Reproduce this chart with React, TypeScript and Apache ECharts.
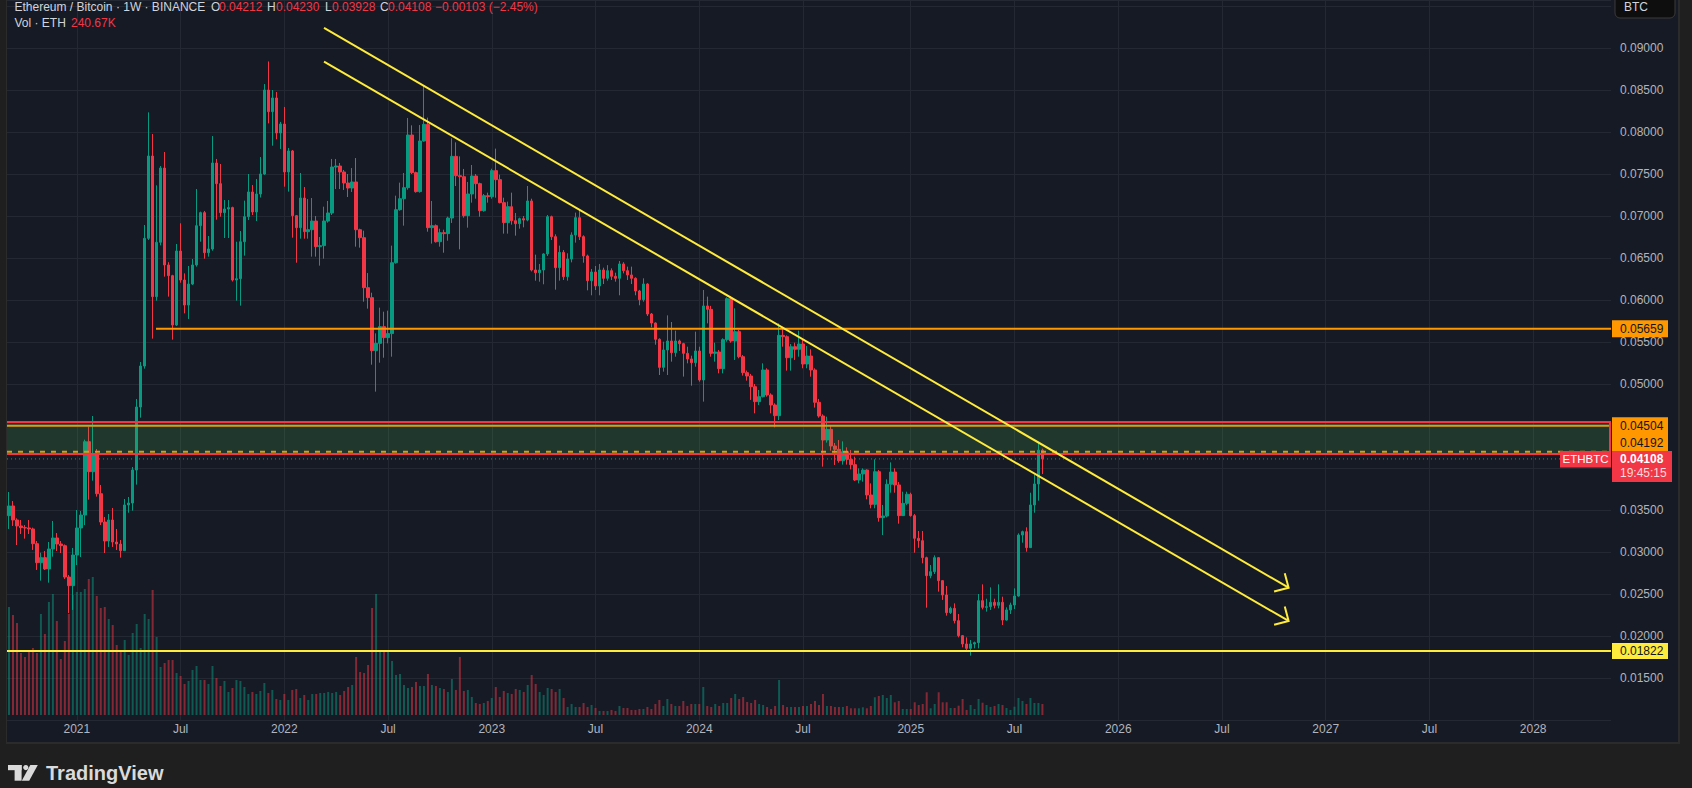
import React, { useEffect, useRef } from 'react';
import * as echarts from 'echarts';

const FONT = '"Liberation Sans", Arial, Helvetica, sans-serif';
const GRID_LINE = '#242833';
const AXIS_TEXT = '#b2b5be';
const LEGEND_TEXT = '#d1d4dc';
const UP = '#089981';
const DOWN = '#f23645';
const UP_VOL = 'rgba(8,153,129,0.5)';
const DOWN_VOL = 'rgba(242,54,69,0.5)';
const ORANGE = '#ff9800';
const YELLOW = '#ffeb3b';
const DARK_TEXT = '#131722';

// weekly axis: first visible week and number of week slots on the axis
const FIRST_WEEK_UTC = Date.UTC(2020, 8, 7);
const WEEKS_ON_AXIS = 402;

const TICK_LABELS: [string, string][] = [
  ['2021-01-04', '2021'], ['2021-07-05', 'Jul'], ['2022-01-03', '2022'], ['2022-07-04', 'Jul'],
  ['2023-01-02', '2023'], ['2023-07-03', 'Jul'], ['2024-01-01', '2024'], ['2024-07-01', 'Jul'],
  ['2025-01-06', '2025'], ['2025-07-07', 'Jul'], ['2026-01-05', '2026'], ['2026-07-06', 'Jul'],
  ['2027-01-04', '2027'], ['2027-07-05', 'Jul'], ['2028-01-03', '2028'],
];

// [open, high, low, close] weekly ETH/BTC
const CANDLES_2020 = [
  [0.03433, 0.03714, 0.03274, 0.03548], [0.03548, 0.03607, 0.03310, 0.03381], [0.03381, 0.03401, 0.03083, 0.03310],
  [0.03310, 0.03381, 0.03214, 0.03290], [0.03290, 0.03321, 0.03159, 0.03286], [0.03286, 0.03381, 0.03214, 0.03274],
  [0.03274, 0.03290, 0.03024, 0.03099], [0.03099, 0.03131, 0.02786, 0.02873], [0.02873, 0.02992, 0.02659, 0.02933],
  [0.02933, 0.03012, 0.02786, 0.02798], [0.02798, 0.03119, 0.02635, 0.03036], [0.03036, 0.03369, 0.02944, 0.03167],
  [0.03167, 0.03226, 0.03012, 0.03095], [0.03095, 0.03131, 0.02988, 0.03075], [0.03075, 0.03090, 0.02679, 0.02702],
  [0.02702, 0.02726, 0.02274, 0.02599], [0.02599, 0.03048, 0.02310, 0.02964],
];
const CANDLES_2021 = [
  [0.02964, 0.03500, 0.02845, 0.03286], [0.03286, 0.03488, 0.02940, 0.03440], [0.03440, 0.04337, 0.03321, 0.04313],
  [0.04313, 0.04492, 0.03623, 0.03956], [0.03956, 0.04619, 0.03849, 0.04155], [0.04155, 0.04226, 0.03659, 0.03694],
  [0.03694, 0.03798, 0.03321, 0.03357], [0.03357, 0.03417, 0.02988, 0.03131], [0.03131, 0.03452, 0.03060, 0.03381],
  [0.03381, 0.03524, 0.03060, 0.03119], [0.03119, 0.03274, 0.03024, 0.03095], [0.03095, 0.03143, 0.02933, 0.03016],
  [0.03016, 0.03631, 0.03016, 0.03560], [0.03560, 0.03655, 0.03468, 0.03583], [0.03583, 0.04012, 0.03492, 0.03976],
  [0.03976, 0.04821, 0.03802, 0.04726], [0.04726, 0.05262, 0.04599, 0.05214], [0.05214, 0.06893, 0.05183, 0.06734],
  [0.06734, 0.08234, 0.06714, 0.07714], [0.07714, 0.07976, 0.05540, 0.06040], [0.06040, 0.07365, 0.05992, 0.06687],
  [0.06687, 0.07595, 0.06650, 0.07571], [0.07571, 0.07762, 0.06278, 0.06417], [0.06417, 0.06450, 0.06040, 0.06290],
  [0.06290, 0.06300, 0.05528, 0.05702], [0.05702, 0.06667, 0.05690, 0.06583], [0.06583, 0.06913, 0.06206, 0.06238],
  [0.06238, 0.06317, 0.05841, 0.05940], [0.05940, 0.06405, 0.05774, 0.06190], [0.06190, 0.06488, 0.06179, 0.06417],
  [0.06417, 0.07321, 0.06397, 0.06885], [0.06885, 0.07052, 0.06694, 0.07040], [0.07040, 0.07060, 0.06492, 0.06563],
  [0.06563, 0.06762, 0.06516, 0.06607], [0.06607, 0.07952, 0.06587, 0.07631], [0.07631, 0.07679, 0.06956, 0.07385],
  [0.07385, 0.07619, 0.06992, 0.07040], [0.07040, 0.07190, 0.06738, 0.07083], [0.07083, 0.07190, 0.06738, 0.07100],
  [0.07100, 0.07111, 0.06220, 0.06238], [0.06238, 0.06694, 0.05992, 0.06254], [0.06254, 0.06821, 0.05933, 0.06694],
  [0.06694, 0.07183, 0.06528, 0.06992], [0.06992, 0.07500, 0.06952, 0.07286], [0.07286, 0.07369, 0.07012, 0.07048],
  [0.07048, 0.07440, 0.06940, 0.07262], [0.07262, 0.07702, 0.07220, 0.07500], [0.07500, 0.08571, 0.07490, 0.08500],
  [0.08500, 0.08840, 0.08103, 0.08242], [0.08242, 0.08500, 0.07837, 0.08405], [0.08405, 0.08476, 0.07913, 0.07988],
  [0.07988, 0.08120, 0.07798, 0.08095],
];
const CANDLES_2022 = [
  [0.08095, 0.08298, 0.07349, 0.07524], [0.07524, 0.07810, 0.07290, 0.07774], [0.07774, 0.07786, 0.06742, 0.07004],
  [0.07004, 0.07012, 0.06444, 0.06861], [0.06861, 0.07512, 0.06730, 0.07214], [0.07214, 0.07345, 0.06730, 0.06813],
  [0.06813, 0.07202, 0.06730, 0.06837], [0.06837, 0.07214, 0.06516, 0.06940], [0.06940, 0.07000, 0.06516, 0.06635],
  [0.06635, 0.06750, 0.06409, 0.06647], [0.06647, 0.07111, 0.06492, 0.06940], [0.06940, 0.07179, 0.06921, 0.07036],
  [0.07036, 0.07679, 0.07012, 0.07583], [0.07583, 0.07679, 0.07321, 0.07595], [0.07595, 0.07631, 0.07321, 0.07524],
  [0.07524, 0.07548, 0.07310, 0.07393], [0.07393, 0.07500, 0.07226, 0.07333], [0.07333, 0.07571, 0.07286, 0.07405],
  [0.07405, 0.07690, 0.06635, 0.06837], [0.06837, 0.06849, 0.06623, 0.06742], [0.06742, 0.06825, 0.05980, 0.06147],
  [0.06147, 0.06321, 0.05897, 0.06028], [0.06028, 0.06087, 0.05230, 0.05397], [0.05397, 0.05603, 0.04909, 0.05484],
  [0.05484, 0.05909, 0.05254, 0.05683], [0.05683, 0.05861, 0.05313, 0.05552], [0.05552, 0.05873, 0.05484, 0.05600],
  [0.05600, 0.06647, 0.05325, 0.06444], [0.06444, 0.07242, 0.06433, 0.07075], [0.07075, 0.07397, 0.07063, 0.07206],
  [0.07206, 0.07512, 0.06885, 0.07337], [0.07337, 0.08167, 0.07313, 0.07964], [0.07964, 0.08079, 0.07500, 0.07516],
  [0.07516, 0.07528, 0.07278, 0.07290], [0.07290, 0.08083, 0.07278, 0.07893], [0.07893, 0.08560, 0.07885, 0.08091],
  [0.08091, 0.08171, 0.06813, 0.06861], [0.06861, 0.07179, 0.06671, 0.06885], [0.06885, 0.06900, 0.06683, 0.06694],
  [0.06694, 0.06849, 0.06635, 0.06802], [0.06802, 0.06837, 0.06563, 0.06790], [0.06790, 0.06992, 0.06706, 0.06976],
  [0.06976, 0.07925, 0.06917, 0.07710], [0.07710, 0.07877, 0.07357, 0.07480], [0.07480, 0.07710, 0.06603, 0.07468],
  [0.07468, 0.07560, 0.06980, 0.07004], [0.07004, 0.07405, 0.06861, 0.07262], [0.07262, 0.07607, 0.07159, 0.07476],
  [0.07476, 0.07500, 0.07206, 0.07385], [0.07385, 0.07397, 0.06992, 0.07063], [0.07063, 0.07262, 0.07052, 0.07242],
  [0.07242, 0.07278, 0.07159, 0.07230],
];
const CANDLES_2023 = [
  [0.07230, 0.07563, 0.07206, 0.07540], [0.07540, 0.07802, 0.07218, 0.07433], [0.07433, 0.07492, 0.07150, 0.07159],
  [0.07159, 0.07218, 0.06790, 0.06921], [0.06921, 0.07171, 0.06790, 0.07111], [0.07111, 0.07278, 0.06897, 0.06944],
  [0.06944, 0.07036, 0.06766, 0.06909], [0.06909, 0.06980, 0.06849, 0.06968], [0.06968, 0.07000, 0.06865, 0.06952],
  [0.06952, 0.07357, 0.06937, 0.07179], [0.07179, 0.07206, 0.06340, 0.06357], [0.06357, 0.06540, 0.06230, 0.06325],
  [0.06325, 0.06429, 0.06218, 0.06357], [0.06357, 0.06556, 0.06187, 0.06548], [0.06548, 0.07012, 0.06524, 0.06992],
  [0.06992, 0.07004, 0.06714, 0.06754], [0.06754, 0.06782, 0.06123, 0.06385], [0.06385, 0.06647, 0.06230, 0.06567],
  [0.06567, 0.06595, 0.06238, 0.06278], [0.06278, 0.06556, 0.06230, 0.06488], [0.06488, 0.06806, 0.06448, 0.06774],
  [0.06774, 0.07040, 0.06683, 0.06980], [0.06980, 0.07080, 0.06714, 0.06754], [0.06754, 0.06770, 0.06444, 0.06524],
  [0.06524, 0.06540, 0.06115, 0.06230], [0.06230, 0.06369, 0.06056, 0.06333], [0.06333, 0.06405, 0.06119, 0.06167],
  [0.06167, 0.06429, 0.06056, 0.06357], [0.06357, 0.06385, 0.06190, 0.06258], [0.06258, 0.06415, 0.06230, 0.06349],
  [0.06349, 0.06377, 0.06238, 0.06282], [0.06282, 0.06325, 0.06218, 0.06258], [0.06258, 0.06464, 0.06056, 0.06429],
  [0.06429, 0.06450, 0.06317, 0.06349], [0.06349, 0.06397, 0.06238, 0.06298], [0.06298, 0.06397, 0.06190, 0.06258],
  [0.06258, 0.06270, 0.06056, 0.06107], [0.06107, 0.06120, 0.05937, 0.06004], [0.06004, 0.06258, 0.05980, 0.06190],
  [0.06190, 0.06200, 0.05810, 0.05833], [0.05833, 0.05845, 0.05675, 0.05726], [0.05726, 0.05734, 0.05468, 0.05532],
  [0.05532, 0.05544, 0.05107, 0.05198], [0.05198, 0.05504, 0.05147, 0.05405], [0.05405, 0.05817, 0.05107, 0.05512],
  [0.05512, 0.05738, 0.05266, 0.05373], [0.05373, 0.05635, 0.05325, 0.05512], [0.05512, 0.05528, 0.05393, 0.05480],
  [0.05480, 0.05490, 0.05088, 0.05365], [0.05365, 0.05444, 0.05246, 0.05298], [0.05298, 0.05337, 0.04980, 0.05254],
  [0.05254, 0.05623, 0.05206, 0.05393],
];
const CANDLES_2024 = [
  [0.05393, 0.05444, 0.05028, 0.05048], [0.05048, 0.06119, 0.04790, 0.05929], [0.05929, 0.06040, 0.05722, 0.05889],
  [0.05889, 0.05930, 0.05325, 0.05365], [0.05365, 0.05492, 0.05266, 0.05381], [0.05381, 0.05405, 0.05127, 0.05183],
  [0.05183, 0.05544, 0.05127, 0.05528], [0.05528, 0.06032, 0.05504, 0.06016], [0.06016, 0.06048, 0.05492, 0.05512],
  [0.05512, 0.05901, 0.05286, 0.05623], [0.05623, 0.05643, 0.05306, 0.05325], [0.05325, 0.05345, 0.05100, 0.05135],
  [0.05135, 0.05160, 0.05040, 0.05095], [0.05095, 0.05120, 0.04810, 0.04968], [0.04968, 0.05000, 0.04651, 0.04790],
  [0.04790, 0.04929, 0.04750, 0.04849], [0.04849, 0.05246, 0.04840, 0.05167], [0.05167, 0.05187, 0.04849, 0.04869],
  [0.04869, 0.04889, 0.04651, 0.04750], [0.04750, 0.04770, 0.04484, 0.04623], [0.04623, 0.05722, 0.04571, 0.05579],
  [0.05579, 0.05683, 0.05444, 0.05563], [0.05563, 0.05579, 0.05159, 0.05313], [0.05313, 0.05476, 0.05159, 0.05444],
  [0.05444, 0.05492, 0.05286, 0.05413], [0.05413, 0.05635, 0.05325, 0.05476], [0.05476, 0.05536, 0.05187, 0.05238],
  [0.05238, 0.05452, 0.05187, 0.05333], [0.05333, 0.05413, 0.05087, 0.05167], [0.05167, 0.05187, 0.04719, 0.04782],
  [0.04782, 0.04822, 0.04599, 0.04619], [0.04619, 0.04639, 0.04016, 0.04333], [0.04333, 0.04611, 0.04302, 0.04460],
  [0.04460, 0.04512, 0.04206, 0.04262], [0.04262, 0.04298, 0.04036, 0.04222], [0.04222, 0.04333, 0.04063, 0.04087],
  [0.04087, 0.04317, 0.04040, 0.04194], [0.04194, 0.04246, 0.04040, 0.04103], [0.04103, 0.04214, 0.03984, 0.04040],
  [0.04040, 0.04135, 0.03845, 0.03857], [0.03857, 0.03996, 0.03817, 0.03929], [0.03929, 0.03996, 0.03837, 0.03976],
  [0.03976, 0.03984, 0.03627, 0.03679], [0.03679, 0.03817, 0.03520, 0.03567], [0.03567, 0.04103, 0.03520, 0.03956],
  [0.03956, 0.03976, 0.03361, 0.03409], [0.03409, 0.03560, 0.03202, 0.03429], [0.03429, 0.03865, 0.03413, 0.03806],
  [0.03806, 0.04067, 0.03706, 0.03952], [0.03952, 0.03996, 0.03706, 0.03798], [0.03798, 0.03833, 0.03337, 0.03433],
  [0.03433, 0.03718, 0.03429, 0.03579], [0.03579, 0.03718, 0.03560, 0.03687],
];
const CANDLES_2025 = [
  [0.03687, 0.03706, 0.03421, 0.03433], [0.03433, 0.03452, 0.02992, 0.03163], [0.03163, 0.03250, 0.03050, 0.03135],
  [0.03135, 0.03250, 0.02865, 0.02933], [0.02933, 0.02944, 0.02337, 0.02718], [0.02718, 0.02845, 0.02687, 0.02766],
  [0.02766, 0.02960, 0.02738, 0.02933], [0.02933, 0.02940, 0.02528, 0.02659], [0.02659, 0.02665, 0.02429, 0.02488],
  [0.02488, 0.02595, 0.02242, 0.02278], [0.02278, 0.02349, 0.02262, 0.02329], [0.02329, 0.02389, 0.02150, 0.02183],
  [0.02183, 0.02262, 0.01984, 0.02004], [0.02004, 0.02012, 0.01865, 0.01905], [0.01905, 0.01984, 0.01830, 0.01853],
  [0.01853, 0.01952, 0.01766, 0.01905], [0.01905, 0.01933, 0.01853, 0.01921], [0.01921, 0.02500, 0.01853, 0.02421],
  [0.02421, 0.02615, 0.02317, 0.02341], [0.02341, 0.02444, 0.02290, 0.02349], [0.02349, 0.02579, 0.02310, 0.02401],
  [0.02401, 0.02444, 0.02329, 0.02365], [0.02365, 0.02615, 0.02329, 0.02401], [0.02401, 0.02468, 0.02130, 0.02190],
  [0.02190, 0.02341, 0.02183, 0.02310], [0.02310, 0.02397, 0.02262, 0.02369], [0.02369, 0.02567, 0.02321, 0.02476],
  [0.02476, 0.03222, 0.02468, 0.03202], [0.03202, 0.03254, 0.03111, 0.03242], [0.03242, 0.03294, 0.03004, 0.03052],
  [0.03052, 0.03706, 0.03052, 0.03560], [0.03560, 0.03917, 0.03468, 0.03810], [0.03810, 0.04313, 0.03611, 0.04212],
  [0.04212, 0.04230, 0.03928, 0.04108],
];

// weekly volume, thousands of ETH
const VOLUME_2020 = [2365, 2190, 2015, 1358, 1270, 1380, 1467, 1358, 2212, 1774, 2475, 2650, 2059, 1226, 1621, 2212, 2628];
const VOLUME_2021 = [
  2694, 2694, 2759, 2978, 3022, 2606, 2343, 2365, 2102, 1971, 1533, 1402, 1643, 1314, 1796, 1993, 1467, 2212, 2102, 2738,
  1708, 1051, 1139, 1205, 1205, 920, 854, 679, 745, 986, 1073, 767, 767, 679, 1073, 810, 635, 745, 504, 591,
  767, 745, 613, 460, 504, 460, 526, 701, 482, 548, 350, 329,
];
const VOLUME_2022 = [
  460, 329, 548, 569, 372, 438, 329, 460, 460, 482, 482, 504, 482, 504, 438, 526, 613, 657, 1270, 942,
  920, 1095, 2343, 2650, 1402, 1380, 1402, 1183, 876, 898, 657, 591, 613, 723, 635, 635, 898, 657, 635, 591,
  569, 504, 788, 548, 1270, 526, 548, 394, 263, 241, 263, 307,
];
const VOLUME_2023 = [
  372, 613, 394, 526, 482, 460, 569, 548, 504, 657, 876, 679, 504, 438, 591, 569, 504, 569, 372, 175,
  241, 175, 175, 263, 175, 219, 153, 88, 88, 88, 110, 88, 197, 153, 153, 110, 110, 131, 131, 175,
  131, 241, 329, 197, 350, 241, 197, 197, 307, 197, 241, 241,
];
const VOLUME_2024 = [
  241, 613, 197, 175, 241, 197, 263, 263, 372, 460, 350, 394, 285, 263, 329, 241, 219, 175, 131, 197,
  767, 219, 175, 175, 175, 175, 197, 197, 241, 307, 219, 460, 197, 197, 175, 175, 175, 197, 147, 147,
  147, 169, 147, 197, 388, 416, 438, 372, 438, 278, 307, 131, 131,
];
const VOLUME_2025 = [
  131, 278, 219, 241, 497, 147, 241, 497, 278, 278, 153, 153, 204, 350, 110, 219, 131, 350, 269, 219,
  175, 197, 241, 219, 153, 110, 182, 372, 307, 241, 372, 263, 263, 240.67,
];

// drawn levels and trend lines (x in weeks from 2020-09-07)
const RESISTANCE = { price: 0.05659, fromWeek: 36.85 };
const ZONE = { top: 0.04548, bottom: 0.04167, upper: 0.04504, lower: 0.04192 };
const LAST_PRICE = 0.04108;
const SUPPORT = 0.01822;
const TREND_UPPER: [number, number][] = [[78.95, 0.09239], [320.7, 0.02575]];
const TREND_LOWER: [number, number][] = [[78.95, 0.08838], [320.7, 0.02179]];

const PRICE_MIN = 0.01;
const PRICE_MAX = 0.0957143;
const PRICE_STEP = 0.005;
// price-scale labels hidden behind the tags / the currency button
const HIDDEN_PRICE_LABELS = [0.01, 0.04, 0.045, 0.095];
const VOLUME_MIN = -110;
const VOLUME_MAX = 15658;

const CANDLES = [...CANDLES_2020, ...CANDLES_2021, ...CANDLES_2022, ...CANDLES_2023, ...CANDLES_2024, ...CANDLES_2025];
const VOLUMES = [...VOLUME_2020, ...VOLUME_2021, ...VOLUME_2022, ...VOLUME_2023, ...VOLUME_2024, ...VOLUME_2025];

function weekCategories(): string[] {
  const out: string[] = [];
  for (let i = 0; i < WEEKS_ON_AXIS; i++) {
    out.push(new Date(FIRST_WEEK_UTC + i * 7 * 86400000).toISOString().slice(0, 10));
  }
  return out;
}

const TICK_MAP = new Map<string, string>(TICK_LABELS);
const XMIN = -0.5;
const XMAX = WEEKS_ON_AXIS - 0.5;

function levelLine(data: [number, number][], color: string, width: number, type: any, z: number) {
  return {
    type: 'line', xAxisIndex: 1, yAxisIndex: 0, data, symbol: 'none', silent: true, z,
    lineStyle: { color, width, type }, animation: false,
  };
}

function buildOption() {
  const candleData = CANDLES.map(([o, h, l, c]) => [o, c, l, h]);
  const volData = VOLUMES.map((v, i) => ({
    value: v,
    itemStyle: { color: CANDLES[i] && CANDLES[i][3] >= CANDLES[i][0] ? UP_VOL : DOWN_VOL },
  }));
  const isTick = (_i: number, v: string) => TICK_MAP.has(v);
  return {
    animation: false,
    backgroundColor: 'transparent',
    textStyle: { fontFamily: FONT },
    grid: { left: 7, top: 0, width: 1604, height: 720, containLabel: false },
    xAxis: [
      {
        type: 'category', data: weekCategories(), boundaryGap: true, gridIndex: 0,
        axisLine: { show: false }, axisTick: { show: false, alignWithLabel: true },
        axisLabel: {
          interval: isTick, formatter: (v: string) => TICK_MAP.get(v) || '',
          color: AXIS_TEXT, fontSize: 12, fontFamily: FONT, margin: 3,
        },
        splitLine: { show: true, interval: isTick, alignWithLabel: true, lineStyle: { color: GRID_LINE, width: 1 } },
      },
      { type: 'value', min: XMIN, max: XMAX, show: false, gridIndex: 0 },
    ],
    yAxis: [
      {
        type: 'value', position: 'right', min: PRICE_MIN, max: PRICE_MAX, interval: PRICE_STEP, gridIndex: 0,
        axisLine: { show: false }, axisTick: { show: false },
        axisLabel: {
          color: AXIS_TEXT, fontSize: 12, fontFamily: FONT, margin: 9,
          formatter: (v: number) => (HIDDEN_PRICE_LABELS.some((h) => Math.abs(h - v) < 0.0001) || v > 0.0926 ? '' : v.toFixed(5)),
        },
        splitLine: { show: true, lineStyle: { color: GRID_LINE, width: 1 } },
      },
      { type: 'value', min: VOLUME_MIN, max: VOLUME_MAX, show: false, gridIndex: 0 },
    ],
    series: [
      { type: 'bar', xAxisIndex: 0, yAxisIndex: 1, data: volData, barWidth: 2, silent: true, z: 2 },
      {
        type: 'candlestick', xAxisIndex: 0, yAxisIndex: 0, data: candleData, barWidth: 3, silent: true, z: 3,
        itemStyle: { color: UP, color0: DOWN, borderColor: UP, borderColor0: DOWN, borderWidth: 1 },
      },
      levelLine([[RESISTANCE.fromWeek, RESISTANCE.price], [XMAX, RESISTANCE.price]], ORANGE, 2, 'solid', 4),
      levelLine([[XMIN, ZONE.upper], [XMAX, ZONE.upper]], ORANGE, 2, 'solid', 4),
      levelLine([[XMIN, ZONE.lower], [XMAX, ZONE.lower]], ORANGE, 2, [5, 6], 4),
      {
        type: 'custom', xAxisIndex: 1, yAxisIndex: 0, silent: true, z: 5, clip: true,
        data: [[XMIN - 2, XMAX - 0.25, ZONE.top, ZONE.bottom]],
        encode: { x: [0, 1], y: [2, 3] },
        renderItem: (_p: any, api: any) => {
          const a = api.coord([api.value(0), api.value(2)]);
          const b = api.coord([api.value(1), api.value(3)]);
          return {
            type: 'rect',
            shape: { x: a[0], y: a[1], width: b[0] - a[0], height: b[1] - a[1] },
            style: { fill: 'rgba(76,175,80,0.2)', stroke: DOWN, lineWidth: 2 },
          };
        },
      },
      levelLine([[XMIN, LAST_PRICE], [XMAX, LAST_PRICE]], DOWN, 1, [1, 3], 6),
      levelLine([[XMIN, SUPPORT], [XMAX, SUPPORT]], YELLOW, 2, 'solid', 6),
      levelLine(TREND_UPPER, YELLOW, 2, 'solid', 7),
      levelLine(TREND_LOWER, YELLOW, 2, 'solid', 7),
    ],
  };
}

function buildGraphics(chart: any) {
  const py = (p: number) => chart.convertToPixel({ yAxisIndex: 0 }, p) as number;
  const els: any[] = [];
  const text = (x: number, y: number, t: string, fill: string, size = 12, weight = 'normal', align = 'left') => {
    els.push({
      type: 'text', x, y, z: 101, silent: true,
      style: {
        text: t, fill, font: `${weight} ${size}px ${FONT}`,
        align, verticalAlign: 'middle', textAlign: align, textVerticalAlign: 'middle',
      },
    });
  };
  const box = (x: number, y: number, w: number, h: number, fill: string, extra: any = {}) => {
    els.push({ type: 'rect', z: 100, silent: true, shape: { x, y, width: w, height: h, r: extra.r || 0 }, style: { fill, ...extra.style } });
  };

  // arrow heads on the trend lines
  [TREND_UPPER, TREND_LOWER].forEach((line) => {
    const tail = chart.convertToPixel({ xAxisIndex: 1, yAxisIndex: 0 }, line[0]);
    const tip = chart.convertToPixel({ xAxisIndex: 1, yAxisIndex: 0 }, line[1]);
    const dx = tip[0] - tail[0];
    const dy = tip[1] - tail[1];
    const len = Math.hypot(dx, dy);
    const ux = -dx / len;
    const uy = -dy / len;
    const c = Math.SQRT1_2;
    const arm = 15;
    const a1 = [tip[0] + arm * (ux * c - uy * c), tip[1] + arm * (ux * c + uy * c)];
    const a2 = [tip[0] + arm * (ux * c + uy * c), tip[1] + arm * (-ux * c + uy * c)];
    els.push({
      type: 'polyline', z: 90, silent: true,
      shape: { points: [a1, tip, a2] },
      style: { stroke: YELLOW, lineWidth: 2, fill: 'none', lineJoin: 'miter' },
    });
  });

  // price scale tags
  const yR = py(RESISTANCE.price);
  box(1612, yR - 8.5, 56, 17, ORANGE);
  text(1620, yR, RESISTANCE.price.toFixed(5), DARK_TEXT);

  const yU = py(ZONE.upper);
  const yLast = py(LAST_PRICE);
  const redTop = yLast - 8;
  box(1612, yU - 8.5, 56, redTop - (yU - 8.5), ORANGE);
  text(1620, yU, ZONE.upper.toFixed(5), DARK_TEXT);
  text(1620, (yU + 8.5 + redTop) / 2, ZONE.lower.toFixed(5), DARK_TEXT);

  box(1612, redTop, 60, 31, DOWN);
  text(1620, yLast, LAST_PRICE.toFixed(5), '#ffffff', 12, 'bold');
  text(1620, yLast + 14.5, '19:45:15', 'rgba(255,255,255,0.82)');
  box(1560, redTop, 51, 16.5, DOWN);
  text(1585.5, redTop + 8.4, 'ETHBTC', '#ffffff', 11.5, 'normal', 'center');

  const yS = py(SUPPORT);
  box(1612, yS - 8, 56, 16, YELLOW);
  text(1620, yS, SUPPORT.toFixed(5), DARK_TEXT);

  // currency button
  box(1615, -6, 60, 24, '#0e0e0e', { r: 5, style: { stroke: '#3a3a3a', lineWidth: 1 } });
  text(1624, 7, 'BTC', LEGEND_TEXT);

  // legend
  const r1 = 7;
  const r2 = 22.5;
  text(14.5, r1, 'Ethereum / Bitcoin · 1W · BINANCE', LEGEND_TEXT);
  text(211, r1, 'O', LEGEND_TEXT);
  text(219, r1, '0.04212', DOWN);
  text(267, r1, 'H', LEGEND_TEXT);
  text(276, r1, '0.04230', DOWN);
  text(325, r1, 'L', LEGEND_TEXT);
  text(332, r1, '0.03928', DOWN);
  text(380, r1, 'C', LEGEND_TEXT);
  text(388, r1, '0.04108', DOWN);
  text(435, r1, '−0.00103 (−2.45%)', DOWN);
  text(14.5, r2, 'Vol · ETH', LEGEND_TEXT);
  text(71, r2, '240.67K', DOWN);

  // TradingView mark
  const logo = '#dadada';
  els.push({ type: 'rect', z: 100, silent: true, shape: { x: 8, y: 765, width: 13.6, height: 5.2 }, style: { fill: logo } });
  els.push({ type: 'rect', z: 100, silent: true, shape: { x: 14.6, y: 765, width: 7, height: 15.7 }, style: { fill: logo } });
  els.push({ type: 'circle', z: 100, silent: true, shape: { cx: 25.8, cy: 767.6, r: 2.6 }, style: { fill: logo } });
  els.push({
    type: 'polygon', z: 100, silent: true,
    shape: { points: [[30.3, 765], [37.8, 765], [29.2, 780.7], [21.8, 780.7]] },
    style: { fill: logo },
  });
  text(46, 773, 'TradingView', logo, 20, 'bold');

  return els;
}

export default function App() {
  const ref = useRef<HTMLDivElement>(null);
  useEffect(() => {
    document.body.style.margin = '0';
    if (!ref.current) return undefined;
    const chart = echarts.init(ref.current, undefined, { renderer: 'svg', width: 1692, height: 788 });
    chart.setOption(buildOption() as any);
    chart.setOption({ graphic: { elements: buildGraphics(chart) } } as any);
    return () => chart.dispose();
  }, []);
  return (
    <div style={{ position: 'fixed', left: 0, top: 0, width: 1692, height: 788, background: '#1f1f1f', overflow: 'hidden' }}>
      <div style={{ position: 'absolute', left: 7, top: 0, width: 1671, height: 742, background: '#161a25' }} />
      <div style={{ position: 'absolute', left: 6, top: 0, width: 1, height: 744, background: '#2b2b2b' }} />
      <div style={{ position: 'absolute', left: 1678, top: 0, width: 2, height: 744, background: '#2b2b2b' }} />
      <div style={{ position: 'absolute', left: 6, top: 742, width: 1674, height: 2, background: '#2b2b2b' }} />
      <div ref={ref} style={{ position: 'absolute', left: 0, top: 0, width: 1692, height: 788 }} />
    </div>
  );
}
